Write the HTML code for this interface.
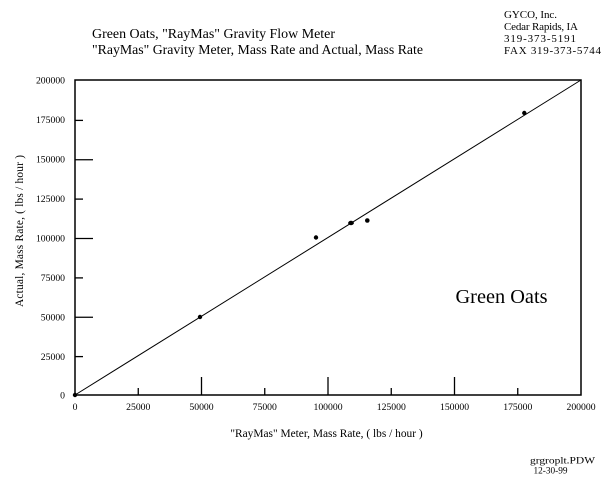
<!DOCTYPE html>
<html><head><meta charset="utf-8"><style>
html,body{margin:0;padding:0;background:#fff;width:613px;height:488px;overflow:hidden}
svg{display:block}
text{font-family:"Liberation Serif","Times New Roman",serif;fill:#000}
</style></head><body>
<svg width="613" height="488" viewBox="0 0 613 488" xmlns="http://www.w3.org/2000/svg">
<rect x="0" y="0" width="613" height="488" fill="#fff"/>
<!-- titles -->
<text x="92" y="38" font-size="13.5" textLength="243" lengthAdjust="spacingAndGlyphs">Green Oats, "RayMas" Gravity Flow Meter</text>
<text x="92" y="54" font-size="13.5" textLength="331" lengthAdjust="spacingAndGlyphs">"RayMas" Gravity Meter, Mass Rate and Actual, Mass Rate</text>
<text x="504" y="18" font-size="11" textLength="53" lengthAdjust="spacing">GYCO, Inc.</text>
<text x="504" y="30" font-size="11" textLength="74" lengthAdjust="spacing">Cedar Rapids, IA</text>
<text x="504" y="42" font-size="11" textLength="72" lengthAdjust="spacing">319-373-5191</text>
<text x="504" y="54" font-size="11" textLength="97" lengthAdjust="spacing">FAX 319-373-5744</text>
<!-- frame -->
<rect x="75" y="80" width="506" height="315" fill="none" stroke="#000" stroke-width="1.5"/>
<!-- x ticks -->
<g stroke="#000" stroke-width="1.3">
<line x1="138.25" y1="395" x2="138.25" y2="388"/>
<line x1="201.5" y1="395" x2="201.5" y2="377"/>
<line x1="264.75" y1="395" x2="264.75" y2="388"/>
<line x1="328" y1="395" x2="328" y2="377"/>
<line x1="391.25" y1="395" x2="391.25" y2="388"/>
<line x1="454.5" y1="395" x2="454.5" y2="377"/>
<line x1="517.75" y1="395" x2="517.75" y2="388"/>
<!-- y ticks -->
<line x1="75" y1="356.6" x2="83" y2="356.6"/>
<line x1="75" y1="317.25" x2="93" y2="317.25"/>
<line x1="75" y1="277.9" x2="83" y2="277.9"/>
<line x1="75" y1="238.5" x2="93" y2="238.5"/>
<line x1="75" y1="199.1" x2="83" y2="199.1"/>
<line x1="75" y1="159.75" x2="93" y2="159.75"/>
<line x1="75" y1="120.4" x2="83" y2="120.4"/>
</g>
<!-- y labels -->
<g font-size="9.7" text-anchor="end">
<text x="65" y="83.5">200000</text>
<text x="65" y="123">175000</text>
<text x="65" y="162.5">150000</text>
<text x="65" y="202">125000</text>
<text x="65" y="241.5">100000</text>
<text x="65" y="281">75000</text>
<text x="65" y="320.5">50000</text>
<text x="65" y="360">25000</text>
<text x="65" y="398.5">0</text>
</g>
<!-- x labels -->
<g font-size="9.7" text-anchor="middle">
<text x="75" y="410">0</text>
<text x="138.25" y="410">25000</text>
<text x="201.5" y="410">50000</text>
<text x="264.75" y="410">75000</text>
<text x="328" y="410">100000</text>
<text x="391.25" y="410">125000</text>
<text x="454.5" y="410">150000</text>
<text x="517.75" y="410">175000</text>
<text x="581" y="410">200000</text>
</g>
<!-- axis titles -->
<text x="326.5" y="437" font-size="11.4" text-anchor="middle">"RayMas" Meter, Mass Rate, ( lbs / hour )</text>
<text transform="translate(23,231) rotate(-90)" font-size="11.4" text-anchor="middle" textLength="152" lengthAdjust="spacing">Actual, Mass Rate, ( lbs / hour )</text>
<!-- line -->
<line x1="75" y1="395" x2="581" y2="80" stroke="#000" stroke-width="1"/>
<!-- points -->
<g fill="#000">
<circle cx="75" cy="395" r="2.2"/>
<circle cx="200" cy="317" r="2.2"/>
<circle cx="316" cy="237.5" r="2.2"/>
<ellipse cx="351" cy="223" rx="2.9" ry="2.2"/>
<circle cx="367.3" cy="220.5" r="2.3"/>
<circle cx="524.3" cy="113" r="2.2"/>
</g>
<!-- annotation -->
<text x="455.5" y="303" font-size="20.5" textLength="92" lengthAdjust="spacingAndGlyphs">Green Oats</text>
<text x="530" y="463.5" font-size="9.5" textLength="65" lengthAdjust="spacingAndGlyphs">grgroplt.PDW</text>
<text x="533.5" y="473.5" font-size="9.5" textLength="34" lengthAdjust="spacingAndGlyphs">12-30-99</text>
</svg>
</body></html>
